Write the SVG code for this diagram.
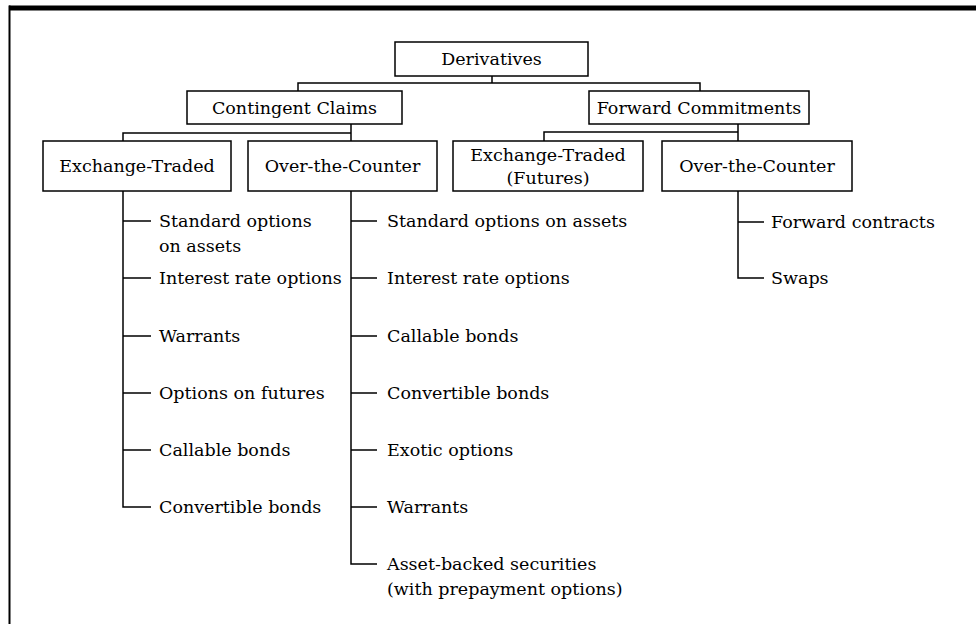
<svg xmlns="http://www.w3.org/2000/svg" width="976" height="624" viewBox="0 0 976 624">
<style>
  .box { fill: #fff; stroke: #000; stroke-width: 1.5; }
  .t { font-family: "DejaVu Serif", "Liberation Serif", serif; font-size: 17.5px; fill: #000; }
  .c { text-anchor: middle; }
  .ln { fill: none; stroke: #000; stroke-width: 1.5; }
</style>
<rect x="0" y="0" width="976" height="624" fill="#fff"/>
<g id="frame">
  <rect x="9" y="5.5" width="967" height="5" fill="#000"/>
  <rect x="8.5" y="5.5" width="2" height="618.5" fill="#000"/>
</g>
<g id="connectors" class="ln">
  <path d="M492 76 V83 M298 91 V83 H700 V91"/>
  <path d="M351 124 V141 M351 133 H123 V141"/>
  <path d="M738 124 V141 M738 132 H544 V141"/>
  <path d="M123 191 V507 H151 M123 221 H151 M123 278 H151 M123 336 H151 M123 393 H151 M123 450 H151"/>
  <path d="M351 191 V564 H377 M351 221 H377 M351 278 H377 M351 336 H377 M351 393 H377 M351 450 H377 M351 507 H377"/>
  <path d="M738 191 V278 H764 M738 222 H764"/>
</g>
<g id="n-derivatives"><rect class="box" x="395" y="42" width="193" height="34"/><text class="t c" x="491.5" y="65">Derivatives</text></g>
<g id="n-contingent"><rect class="box" x="187" y="91" width="215" height="33"/><text class="t c" x="294.5" y="113.5">Contingent Claims</text></g>
<g id="n-forward"><rect class="box" x="589" y="91" width="220" height="33"/><text class="t c" x="699" y="113.5">Forward Commitments</text></g>
<g id="n-cc-exchange"><rect class="box" x="43" y="141" width="188" height="50"/><text class="t c" x="137" y="172">Exchange-Traded</text></g>
<g id="n-cc-otc"><rect class="box" x="248" y="141" width="189" height="50"/><text class="t c" x="342.5" y="172">Over-the-Counter</text></g>
<g id="n-fc-exchange"><rect class="box" x="453" y="141" width="190" height="50"/><text class="t c" x="548" y="161">Exchange-Traded</text><text class="t c" x="548" y="184">(Futures)</text></g>
<g id="n-fc-otc"><rect class="box" x="662" y="141" width="190" height="50"/><text class="t c" x="757" y="172">Over-the-Counter</text></g>
<g id="ex-items" class="t">
  <text x="159" y="227">Standard options</text>
  <text x="159" y="252">on assets</text>
  <text x="159" y="284">Interest rate options</text>
  <text x="159" y="342">Warrants</text>
  <text x="159" y="399">Options on futures</text>
  <text x="159" y="456">Callable bonds</text>
  <text x="159" y="513">Convertible bonds</text>
</g>
<g id="otc-items" class="t">
  <text x="387" y="227">Standard options on assets</text>
  <text x="387" y="284">Interest rate options</text>
  <text x="387" y="342">Callable bonds</text>
  <text x="387" y="399">Convertible bonds</text>
  <text x="387" y="456">Exotic options</text>
  <text x="387" y="513">Warrants</text>
  <text x="387" y="570">Asset-backed securities</text>
  <text x="387" y="595">(with prepayment options)</text>
</g>
<g id="fwd-items" class="t">
  <text x="771" y="228">Forward contracts</text>
  <text x="771" y="284">Swaps</text>
</g>
</svg>
